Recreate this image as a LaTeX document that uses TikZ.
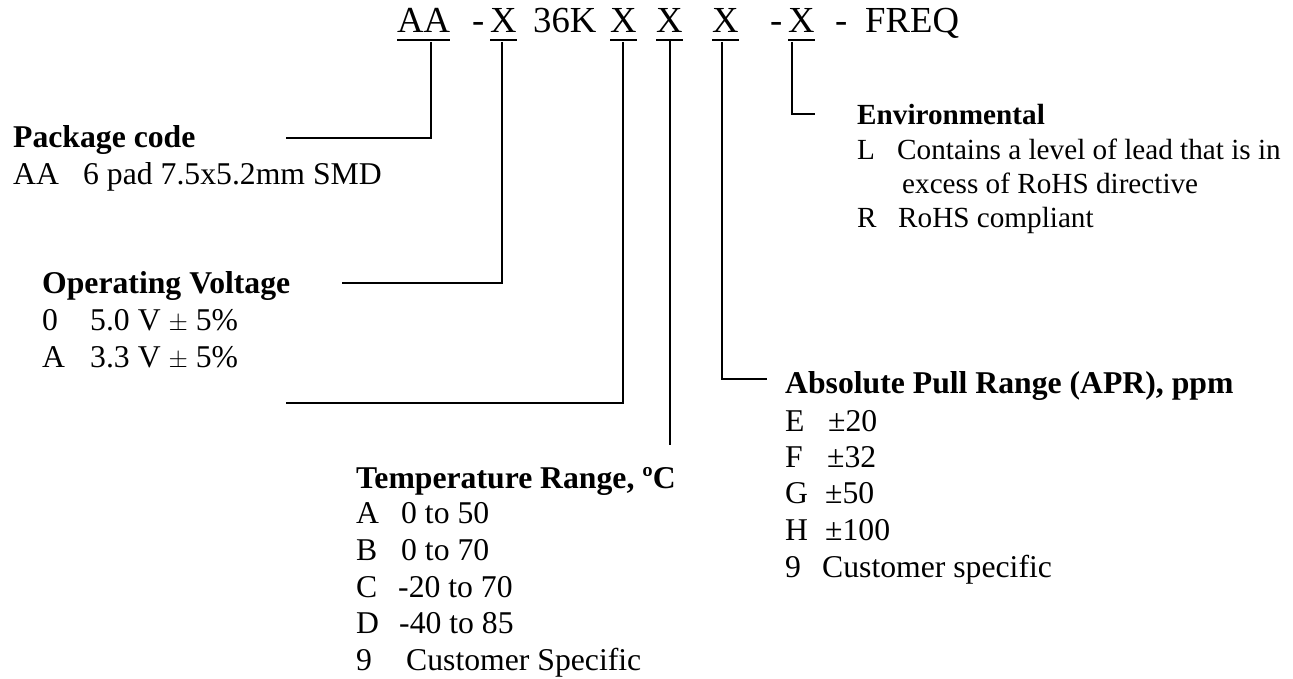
\documentclass[tikz,border=0pt]{standalone}
\usepackage{fontspec}
\setmainfont{Liberation Serif}
\begin{document}
\begin{tikzpicture}[x=1pt,y=-1pt]
\tikzset{
 lbl/.style={anchor=base west, inner sep=0pt, font=\fontsize{31.7}{37}\selectfont},
 hdr/.style={anchor=base west, inner sep=0pt, font=\fontsize{31.7}{37}\selectfont\bfseries},
 env/.style={anchor=base west, inner sep=0pt, font=\fontsize{29.2}{34}\selectfont},
 envhdr/.style={anchor=base west, inner sep=0pt, font=\fontsize{29.2}{34}\selectfont\bfseries},
 code/.style={anchor=base west, inner sep=0pt, font=\fontsize{36.7}{40}\selectfont},
 uline/.style={line width=2pt},
 conn/.style={line width=1.6pt},
 thickconn/.style={line width=2.8pt}
}
\useasboundingbox (0,0) rectangle (1293,679);
\fill[white] (0,0) rectangle (1293,679);

% part number
\node[code] (aa) at (397,33) {AA};
\node[code] (d1) at (472,33) {-};
\node[code] (x0) at (490,33) {X};
\node[code] (k36) at (533,33) {36K};
\node[code] (x1) at (610,33) {X};
\node[code] (x2) at (656,33) {X};
\node[code] (x3) at (712,33) {X};
\node[code] (d2) at (770,33) {-};
\node[code] (x4) at (788,33) {X};
\node[code] (d3) at (835,33) {-};
\node[code] (freq) at (865,33) {FREQ};
\foreach \n in {aa,x0,x1,x2,x3,x4}{
  \draw[uline] ([yshift=-7pt]\n.base west) -- ([yshift=-7pt]\n.base east);
}

% connector points
\coordinate (aaT) at (431,42);
\coordinate (pkgE) at (286,138);
\coordinate (x0T) at (502,42);
\coordinate (volE) at (342,283);
\coordinate (x1T) at (623,42);
\coordinate (strayE) at (286,403);
\coordinate (x2T) at (670,40);
\coordinate (tmpE) at (670,445);
\coordinate (x3T) at (722,42);
\coordinate (aprE) at (767,379);
\coordinate (x4T) at (792,42);
\coordinate (envE) at (815,114);

\draw[conn] (aaT) |- (pkgE);
\draw[conn] (x0T) |- (volE);
\draw[conn] (x1T) |- (strayE);
\draw[thickconn] (x2T) -- (tmpE);
\draw[conn] (x3T) |- (aprE);
\draw[conn] (x4T) |- (envE);

% Package code
\node[hdr] (pkg) at (13,148) {Package code};
\node[lbl] (pkga) at (13,185) {AA};
\node[lbl] (pkgav) at (83,185) {6 pad 7.5x5.2mm SMD};

% Operating voltage
\node[hdr] (vol) at (42,293) {Operating Voltage};
\node[lbl] (vola) at (42,330) {0};
\node[lbl] (volav) at (90,330) {5.0 V $\pm$ 5\%};
\node[lbl] (volb) at (42,367) {A};
\node[lbl] (volbv) at (90,367) {3.3 V $\pm$ 5\%};

% Temperature
\node[hdr] (tmp) at (356,488) {Temperature Range, ºC};
\node[lbl] (ta) at (356,523) {A};
\node[lbl] (tav) at (401,523) {0 to 50};
\node[lbl] (tb) at (356,560) {B};
\node[lbl] (tbv) at (401,560) {0 to 70};
\node[lbl] (tc) at (356,597) {C};
\node[lbl] (tcv) at (398,597) {-20 to 70};
\node[lbl] (td) at (356,633) {D};
\node[lbl] (tdv) at (399,633) {-40 to 85};
\node[lbl] (t9) at (356,670) {9};
\node[lbl] (t9v) at (406,670) {Customer Specific};

% APR
\node[hdr] (apr) at (785,393) {Absolute Pull Range (APR), ppm};
\node[lbl] (ae) at (785,431) {E};
\node[lbl] (aev) at (828,431) {±20};
\node[lbl] (af) at (785,467) {F};
\node[lbl] (afv) at (827,467) {±32};
\node[lbl] (ag) at (785,503) {G};
\node[lbl] (agv) at (825,503) {±50};
\node[lbl] (ah) at (785,540) {H};
\node[lbl] (ahv) at (825,540) {±100};
\node[lbl] (a9) at (785,577) {9};
\node[lbl] (a9v) at (822,577) {Customer specific};

% Environmental
\node[envhdr] (env) at (857,125) {Environmental};
\node[env] (el) at (857,160) {L};
\node[env] (elv) at (897,160) {Contains a level of lead that is in};
\node[env] (elv2) at (902,194) {excess of RoHS directive};
\node[env] (er) at (857,228) {R};
\node[env] (erv) at (898,228) {RoHS compliant};
\end{tikzpicture}
\end{document}
